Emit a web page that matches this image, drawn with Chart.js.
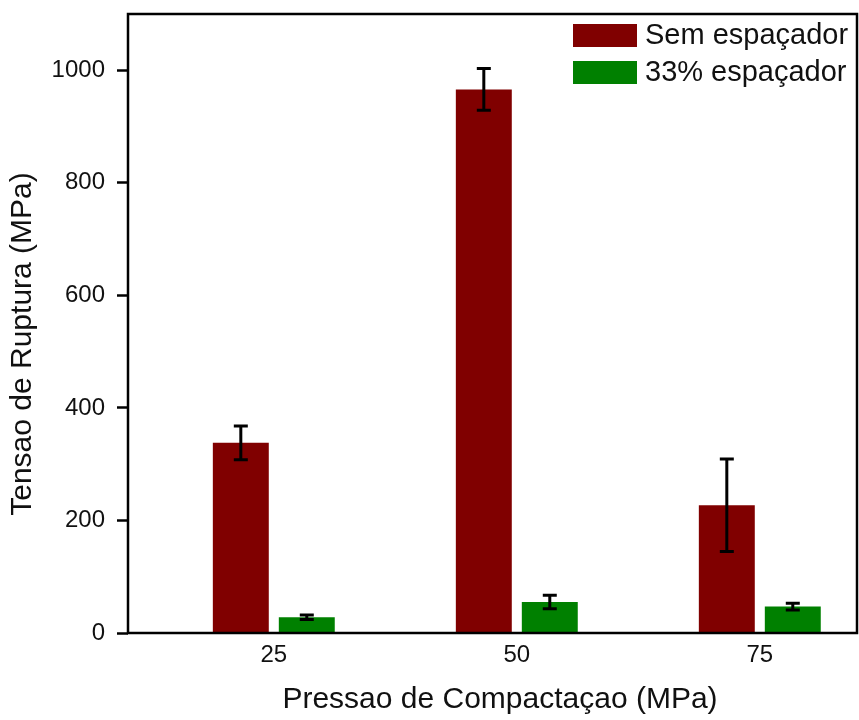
<!DOCTYPE html>
<html>
<head>
<meta charset="utf-8">
<script src="https://cdn.jsdelivr.net/npm/chart.js@4"></script>
<style>
  html, body { margin: 0; padding: 0; background: #fff; }
  #wrap { width: 859px; height: 720px; }
</style>
</head>
<body>
<div id="wrap"><canvas id="c" width="859" height="720"></canvas></div>
<script>
// Compaction pressure (MPa) on the x axis
const pressures = [25, 50, 75];
// Rupture stress (MPa), means and standard deviations
const semEspacador = [338, 966, 227];
const semEspacadorErr = [30, 37, 82];
const espacador33 = [28, 55, 47];
const espacador33Err = [4, 12, 6];
const yTicks = [0, 200, 400, 600, 800, 1000];

const xTitle = 'Pressao de Compactaçao (MPa)';
const yTitle = 'Tensao de Ruptura (MPa)';

const FONT = '"Liberation Sans", Arial, Helvetica, sans-serif';

const errors = [semEspacadorErr, espacador33Err];

// Error bars drawn on top of each bar
const errorBarPlugin = {
  id: 'errorBars',
  afterDatasetsDraw(chart) {
    const ctx = chart.ctx;
    const y = chart.scales.y;
    ctx.save();
    ctx.strokeStyle = '#000';
    ctx.lineWidth = 3;
    chart.data.datasets.forEach((ds, di) => {
      const meta = chart.getDatasetMeta(di);
      meta.data.forEach((bar, i) => {
        const v = ds.data[i].y;
        const e = errors[di][i];
        const yt = y.getPixelForValue(v + e);
        const yb = y.getPixelForValue(v - e);
        const x = bar.x;
        const cap = 7;
        ctx.beginPath();
        ctx.moveTo(x, yt); ctx.lineTo(x, yb);
        ctx.moveTo(x - cap, yt); ctx.lineTo(x + cap, yt);
        ctx.moveTo(x - cap, yb); ctx.lineTo(x + cap, yb);
        ctx.stroke();
      });
    });
    ctx.restore();
  }
};

// Box around the plot area, axis titles and the legend in the top right corner
const framePlugin = {
  id: 'frame',
  afterDraw(chart) {
    const ctx = chart.ctx;
    const a = chart.chartArea;
    ctx.save();
    ctx.strokeStyle = '#000';
    ctx.lineWidth = 2.5;
    ctx.strokeRect(a.left, a.top, a.right - a.left, a.bottom - a.top);

    // axis titles
    ctx.fillStyle = '#111';
    ctx.font = '30px ' + FONT;
    ctx.textAlign = 'center';
    ctx.textBaseline = 'middle';
    ctx.fillText(xTitle, 500, 700);
    ctx.save();
    ctx.translate(23, 344);
    ctx.rotate(-Math.PI / 2);
    ctx.fillText(yTitle, 0, 0);
    ctx.restore();

    // legend
    ctx.font = '29px ' + FONT;
    ctx.textBaseline = 'middle';
    ctx.textAlign = 'left';
    chart.data.datasets.forEach((ds, i) => {
      const top = a.top + 10 + i * 37;
      ctx.fillStyle = ds.backgroundColor;
      ctx.fillRect(573, top, 64, 23);
      ctx.fillStyle = '#111';
      ctx.fillText(ds.label, 645, top + 12);
    });
    ctx.restore();
  }
};

const toPoints = (vals) => pressures.map((p, i) => ({ x: p, y: vals[i] }));

new Chart(document.getElementById('c'), {
  type: 'bar',
  data: {
    datasets: [
      { label: 'Sem espaçador', data: toPoints(semEspacador), backgroundColor: '#800000' },
      { label: '33% espaçador', data: toPoints(espacador33), backgroundColor: '#008000' }
    ]
  },
  options: {
    responsive: false,
    animation: false,
    devicePixelRatio: 1,
    categoryPercentage: 0.543,
    barPercentage: 0.848,
    layout: { padding: { top: 14, right: 2, left: 0, bottom: 0 } },
    plugins: {
      legend: { display: false },
      tooltip: { enabled: false }
    },
    scales: {
      x: {
        type: 'linear',
        min: 10,
        max: 85,
        offset: false,
        afterBuildTicks(scale) { scale.ticks = pressures.map(v => ({ value: v })); },
        afterFit(scale) { scale.height = 87; scale.paddingLeft = 0; scale.paddingRight = 0; },
        grid: { display: false, drawTicks: false },
        border: { display: false },
        ticks: {
          color: '#111', font: { family: FONT, size: 24 }, padding: 8,
          callback: (v) => String(v)
        }
      },
      y: {
        min: 0,
        max: 1100,
        afterBuildTicks(scale) { scale.ticks = yTicks.map(v => ({ value: v })); },
        afterFit(scale) { scale.width = 128; scale.paddingTop = 0; scale.paddingBottom = 0; },
        grid: { drawOnChartArea: false, drawTicks: true, tickLength: 11, tickWidth: 2.5, tickColor: '#000' },
        border: { display: false },
        ticks: {
          color: '#111', font: { family: FONT, size: 24 }, padding: 12,
          callback: (v) => String(v)
        }
      }
    }
  },
  plugins: [errorBarPlugin, framePlugin]
});
</script>
</body>
</html>
